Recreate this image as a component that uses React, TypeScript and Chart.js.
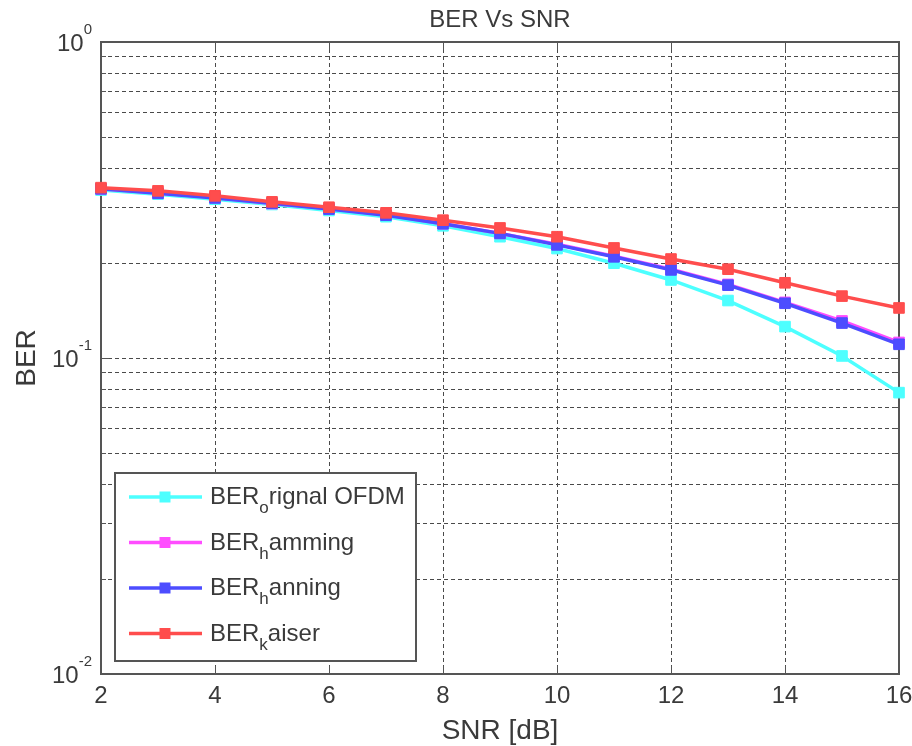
import React, { useEffect, useRef } from 'react';
import { Chart, registerables } from 'chart.js';

Chart.register(...registerables);

// ---- data ----
const snr = [2, 3, 4, 5, 6, 7, 8, 9, 10, 11, 12, 13, 14, 15, 16];
const berOriginal = [0.340, 0.330, 0.318, 0.306, 0.293, 0.280, 0.262, 0.242, 0.222, 0.1995, 0.1766, 0.152, 0.1257, 0.1015, 0.0777];
const berHamming = [0.343, 0.333, 0.322, 0.308, 0.297, 0.284, 0.266, 0.248, 0.229, 0.210, 0.191, 0.171, 0.150, 0.131, 0.112];
const berHanning = [0.343, 0.332, 0.321, 0.309, 0.296, 0.283, 0.266, 0.248, 0.228, 0.209, 0.190, 0.170, 0.149, 0.129, 0.1105];
const berKaiser = [0.346, 0.338, 0.326, 0.312, 0.300, 0.288, 0.273, 0.258, 0.242, 0.223, 0.2057, 0.191, 0.173, 0.157, 0.144];

const seriesLabels = ['BER_orignal OFDM', 'BER_hamming', 'BER_hanning', 'BER_kaiser'];
const seriesColors = ['#4dffff', '#ff4dff', '#4d4dff', '#ff4d4d'];
const seriesValues = [berOriginal, berHamming, berHanning, berKaiser];

const xTicks = [2, 4, 6, 8, 10, 12, 14, 16];
const xTickLabels = ['2', '4', '6', '8', '10', '12', '14', '16'];
const yMajorTicks = [0.01, 0.1, 1];
const yTickBase = '10';
const yTickExponents = ['-2', '-1', '0'];
const yMinorTicks = [0.02, 0.03, 0.04, 0.05, 0.06, 0.07, 0.08, 0.09, 0.2, 0.3, 0.4, 0.5, 0.6, 0.7, 0.8, 0.9];

const chartTitle = 'BER Vs SNR';
const xTitle = 'SNR [dB]';
const yTitle = 'BER';

const FONT = '"Liberation Sans", Arial, sans-serif';
const TEXT = '#3a3a3a';
const AXIS = '#555555';

const matlabPlugin = {
  id: 'matlabAxes',
  beforeDatasetsDraw(chart: any) {
    const { ctx, chartArea: a, scales } = chart;
    const x = scales.x;
    const y = scales.y;
    ctx.save();
    // grid
    ctx.strokeStyle = '#4a4a4a';
    ctx.lineWidth = 1;
    ctx.setLineDash([4, 3]);
    for (const t of xTicks) {
      if (t === xTicks[0] || t === xTicks[xTicks.length - 1]) continue;
      const px = Math.round(x.getPixelForValue(t)) + 0.5;
      ctx.beginPath();
      ctx.moveTo(px, a.top);
      ctx.lineTo(px, a.bottom);
      ctx.stroke();
    }
    for (const t of [...yMinorTicks, 0.1]) {
      const py = Math.round(y.getPixelForValue(t)) + 0.5;
      ctx.beginPath();
      ctx.moveTo(a.left, py);
      ctx.lineTo(a.right, py);
      ctx.stroke();
    }
    ctx.setLineDash([]);
    // tick marks
    ctx.strokeStyle = AXIS;
    ctx.lineWidth = 1;
    for (const t of xTicks) {
      const px = Math.round(x.getPixelForValue(t)) + 0.5;
      ctx.beginPath();
      ctx.moveTo(px, a.bottom);
      ctx.lineTo(px, a.bottom - 8);
      ctx.moveTo(px, a.top);
      ctx.lineTo(px, a.top + 8);
      ctx.stroke();
    }
    const yTickMarks = [...yMajorTicks.map((v) => [v, 8]), ...yMinorTicks.map((v) => [v, 5])];
    for (const [t, len] of yTickMarks) {
      const py = Math.round(y.getPixelForValue(t)) + 0.5;
      ctx.beginPath();
      ctx.moveTo(a.left, py);
      ctx.lineTo(a.left + len, py);
      ctx.moveTo(a.right, py);
      ctx.lineTo(a.right - len, py);
      ctx.stroke();
    }
    // box
    ctx.strokeStyle = AXIS;
    ctx.lineWidth = 2;
    ctx.strokeRect(a.left, a.top, a.right - a.left, a.bottom - a.top);
    ctx.restore();
  },
  afterDatasetsDraw(chart: any) {
    const { ctx, chartArea: a, scales } = chart;
    const x = scales.x;
    const y = scales.y;
    ctx.save();
    ctx.fillStyle = TEXT;
    // x tick labels
    ctx.font = `24px ${FONT}`;
    ctx.textAlign = 'center';
    ctx.textBaseline = 'alphabetic';
    xTicks.forEach((t, i) => {
      ctx.fillText(xTickLabels[i], x.getPixelForValue(t), a.bottom + 29);
    });
    // y tick labels: 10^n
    yMajorTicks.forEach((t, i) => {
      const py = y.getPixelForValue(t);
      ctx.font = `15px ${FONT}`;
      const ew = ctx.measureText(yTickExponents[i]).width;
      ctx.font = `24px ${FONT}`;
      const bw = ctx.measureText(yTickBase).width;
      const right = a.left - 9;
      ctx.textAlign = 'left';
      ctx.font = `24px ${FONT}`;
      ctx.fillText(yTickBase, right - ew - bw, py + 9);
      ctx.font = `15px ${FONT}`;
      ctx.fillText(yTickExponents[i], right - ew, py - 8);
    });
    // title
    ctx.textAlign = 'center';
    ctx.font = `24px ${FONT}`;
    ctx.fillText(chartTitle, (a.left + a.right) / 2, 27);
    // x title
    ctx.font = `28px ${FONT}`;
    ctx.fillText(xTitle, (a.left + a.right) / 2, 739);
    // y title
    ctx.save();
    ctx.translate(35, (a.top + a.bottom) / 2);
    ctx.rotate(-Math.PI / 2);
    ctx.fillText(yTitle, 0, 0);
    ctx.restore();

    // legend
    const lx = 115, ly = 473, lw = 301, lh = 188;
    ctx.fillStyle = '#ffffff';
    ctx.fillRect(lx, ly, lw, lh);
    ctx.strokeStyle = AXIS;
    ctx.lineWidth = 2;
    ctx.strokeRect(lx, ly, lw, lh);
    seriesLabels.forEach((label, i) => {
      const ry = 497 + i * 45.5;
      const col = seriesColors[i];
      ctx.strokeStyle = col;
      ctx.lineWidth = 3.5;
      ctx.beginPath();
      ctx.moveTo(129, ry);
      ctx.lineTo(202, ry);
      ctx.stroke();
      ctx.fillStyle = col;
      ctx.fillRect(165 - 5.5, ry - 5.5, 11, 11);
      const [main, rest] = label.split('_');
      const sub = rest.charAt(0);
      const tail = rest.slice(1);
      ctx.fillStyle = TEXT;
      ctx.textAlign = 'left';
      let tx = 210;
      ctx.font = `24px ${FONT}`;
      ctx.fillText(main, tx, ry + 7);
      tx += ctx.measureText(main).width;
      ctx.font = `17px ${FONT}`;
      ctx.fillText(sub, tx, ry + 16);
      tx += ctx.measureText(sub).width;
      ctx.font = `24px ${FONT}`;
      ctx.fillText(tail, tx, ry + 7);
    });
    ctx.restore();
  },
};

export default function App() {
  const canvasRef = useRef<HTMLCanvasElement | null>(null);
  useEffect(() => {
    const canvas = canvasRef.current;
    if (!canvas) return;
    const orders = [4, 3, 2, 1];
    const chart = new Chart(canvas, {
      type: 'line',
      data: {
        datasets: seriesLabels.map((label, i) => ({
          label,
          data: snr.map((s, j) => ({ x: s, y: seriesValues[i][j] })),
          borderColor: seriesColors[i],
          backgroundColor: seriesColors[i],
          pointBackgroundColor: seriesColors[i],
          pointBorderColor: seriesColors[i],
          pointStyle: 'rect',
          pointRadius: 7.5,
          pointBorderWidth: 1,
          borderWidth: 3.5,
          tension: 0,
          fill: false,
          clip: false,
          order: orders[i],
        })),
      },
      options: {
        responsive: false,
        animation: false,
        devicePixelRatio: 1,
        layout: { padding: { left: 101, right: 13, top: 42, bottom: 72 } },
        plugins: {
          legend: { display: false },
          title: { display: false },
          tooltip: { enabled: false },
        },
        events: [],
        scales: {
          x: { type: 'linear', min: 2, max: 16, display: false },
          y: { type: 'logarithmic', min: 0.01, max: 1, display: false },
        },
      },
      plugins: [matlabPlugin],
    } as any);
    return () => chart.destroy();
  }, []);
  return (
    <div style={{ position: 'fixed', left: 0, top: 0, width: 912, height: 746, background: '#ffffff' }}>
      <canvas ref={canvasRef} width={912} height={746} style={{ display: 'block', width: 912, height: 746 }} />
    </div>
  );
}
